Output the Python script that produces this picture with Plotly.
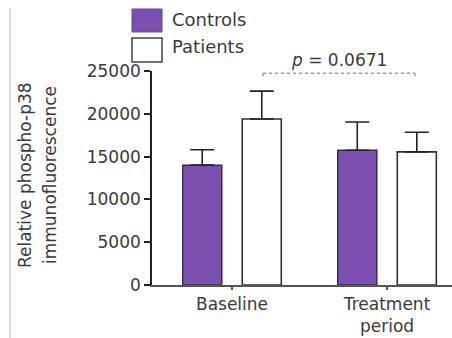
import plotly.graph_objects as go

# Group means and upper SEM for each condition
categories = ["Baseline", "Treatment<br>period"]
controls = [14000, 15750]
controls_err = [1800, 3300]
patients = [19400, 15550]
patients_err = [3250, 2300]
y_ticks = [0, 5000, 10000, 15000, 20000, 25000]
p_label = "<i>p</i> = 0.0671"

W, H = 452, 338
FONT = "DejaVu Sans"
TXT = "#3a3a3a"
PURPLE = "#7b50b0"


def px(x):
    return x / W


def py(y):
    return 1 - y / H


fig = go.Figure()
fig.add_trace(go.Bar(
    x=categories, y=controls, name="Controls",
    marker=dict(color=PURPLE, line=dict(color="#3b2d52", width=1.5)),
    error_y=dict(type="data", array=controls_err, arrayminus=[0, 0],
                 symmetric=False, color="#222", thickness=1.6, width=12),
))
fig.add_trace(go.Bar(
    x=categories, y=patients, name="Patients",
    marker=dict(color="white", line=dict(color="#333", width=1.6)),
    error_y=dict(type="data", array=patients_err, arrayminus=[0, 0],
                 symmetric=False, color="#222", thickness=1.6, width=12),
))

fig.update_layout(
    width=W, height=H,
    margin=dict(l=0, r=0, t=0, b=0),
    paper_bgcolor="white", plot_bgcolor="white",
    barmode="group", bargap=0.232, bargroupgap=0.344,
    showlegend=False,
    font=dict(family=FONT, color=TXT, size=17),
    xaxis=dict(
        domain=[px(152), 1], range=[-0.516, 1.419],
        showline=True, linecolor="#555", linewidth=1.5,
        ticks="outside", ticklen=3, tickcolor="#555", tickwidth=1.5,
        showgrid=False, zeroline=False, automargin=False,
        tickfont=dict(family=FONT, size=17, color=TXT),
    ),
    yaxis=dict(
        domain=[py(285), py(71)], range=[0, 25000],
        tickvals=y_ticks, ticktext=[str(v) for v in y_ticks],
        showline=True, linecolor="#222", linewidth=1.6,
        ticks="outside", ticklen=6, tickcolor="#222", tickwidth=1.5,
        showgrid=False, zeroline=False, automargin=False,
        tickfont=dict(family=FONT, size=17, color=TXT),
    ),
)

# Significance bracket between baseline patients and treatment
bx0, bx1, by, bdrop = 0.2, 1.18, 24750, 500
bracket = dict(color="#9a9a9a", width=1.5, dash="dot")
fig.add_shape(type="line", xref="x", yref="y", x0=bx0, x1=bx1, y0=by, y1=by, line=bracket)
fig.add_shape(type="line", xref="x", yref="y", x0=bx0, x1=bx0, y0=by, y1=by - bdrop, line=bracket)
fig.add_shape(type="line", xref="x", yref="y", x0=bx1, x1=bx1, y0=by, y1=by - bdrop, line=bracket)
fig.add_annotation(x=(bx0 + bx1) / 2, y=py(60), xref="x", yref="paper",
                   text=p_label, showarrow=False, font=dict(size=17, color=TXT),
                   xanchor="center", yanchor="middle")

# Legend swatches
fig.add_shape(type="rect", xref="paper", yref="paper",
              x0=px(132), x1=px(162), y0=py(32), y1=py(9),
              fillcolor=PURPLE, line=dict(color="#6a45a0", width=1))
fig.add_shape(type="rect", xref="paper", yref="paper",
              x0=px(132), x1=px(162), y0=py(62), y1=py(38),
              fillcolor="white", line=dict(color="#444", width=1.5))
for label, yc in [("Controls", 20), ("Patients", 47)]:
    fig.add_annotation(x=px(170), y=py(yc), xref="paper", yref="paper",
                       text=label, showarrow=False, xanchor="left", yanchor="middle",
                       font=dict(size=18, color=TXT))

# Y-axis title, two rotated lines
for line_text, xc in [("Relative phospho-p38", 25), ("immunofluorescence", 50)]:
    fig.add_annotation(x=px(xc), y=py(175), xref="paper", yref="paper",
                       text=line_text, textangle=-90, showarrow=False,
                       xanchor="center", yanchor="middle",
                       font=dict(size=17, color=TXT))

# Faint frame line at the left edge
fig.add_shape(type="line", xref="paper", yref="paper",
              x0=px(10), x1=px(10), y0=0, y1=py(8),
              line=dict(color="#cfcfcf", width=1.5))

fig.write_html("out.html")
